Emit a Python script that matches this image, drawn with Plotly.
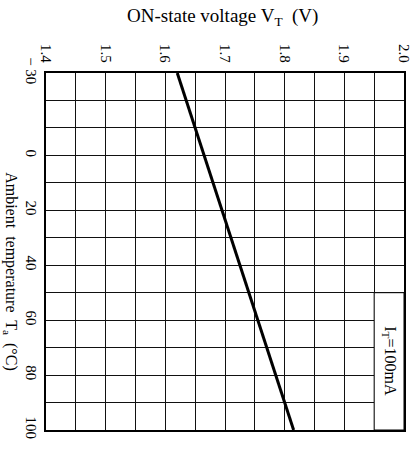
import plotly.graph_objects as go

# Data
temperature_c = [-30, 100]
on_voltage_v = [1.62, 1.815]

x_tick_vals = [1.4, 1.5, 1.6, 1.7, 1.8, 1.9, 2.0]
x_tick_text = ["1.4", "1.5", "1.6", "1.7", "1.8", "1.9", "2.0"]
y_tick_vals = [-30, 0, 20, 40, 60, 80, 100]
y_tick_text = ["\u2212 30", "0", "20", "40", "60", "80", "100"]

serif = "Liberation Serif, Times New Roman, serif"

fig = go.Figure()
fig.add_trace(go.Scatter(
    x=on_voltage_v, y=temperature_c, mode="lines",
    line=dict(color="black", width=3), showlegend=False, hoverinfo="skip"))

# blank label box in the lower-right cell block
fig.add_shape(type="rect", xref="x", yref="y", x0=1.95, x1=2.0, y0=50, y1=100,
              fillcolor="white", line=dict(color="black", width=1), layer="between")

fig.add_annotation(x=1.975, y=75, xref="x", yref="y", xshift=1,
                   text="I<sub>T</sub>=100mA", textangle=90, showarrow=False,
                   font=dict(family=serif, size=16, color="black"))

fig.add_annotation(x=0.5, y=1, xref="paper", yref="paper", yanchor="bottom",
                   yshift=42, xshift=-3,
                   text="ON-state voltage V<sub>T</sub>  (V)", showarrow=False,
                   font=dict(family=serif, size=19, color="black"))

fig.add_annotation(x=0, y=0.445, xref="paper", yref="paper", xanchor="center",
                   xshift=-35,
                   text="Ambient  temperature  T<sub>a</sub>  (°C)", textangle=90,
                   showarrow=False,
                   font=dict(family=serif, size=16, color="black"))

fig.update_xaxes(
    range=[1.4, 2.0], side="top", tickmode="array", tickvals=x_tick_vals,
    ticktext=x_tick_text, tickangle=90, ticks="", showgrid=True,
    gridcolor="#111", gridwidth=1, ticklabelstandoff=3,
    minor=dict(dtick=0.05, tick0=1.4, showgrid=True, gridcolor="#111", gridwidth=1),
    showline=True, linecolor="black", linewidth=2, mirror=True,
    zeroline=False, automargin=False,
    tickfont=dict(family=serif, size=15, color="black"))

fig.update_yaxes(
    range=[100, -30], tickmode="array", tickvals=y_tick_vals,
    ticktext=y_tick_text, tickangle=90, ticks="", showgrid=True,
    gridcolor="#111", gridwidth=1, ticklabelstandoff=0,
    minor=dict(dtick=10, tick0=0, showgrid=True, gridcolor="#111", gridwidth=1),
    showline=True, linecolor="black", linewidth=2, mirror=True,
    zeroline=False, automargin=False,
    tickfont=dict(family=serif, size=15, color="black"))

fig.update_layout(
    width=419, height=449,
    margin=dict(l=46, r=15, t=73, b=19),
    plot_bgcolor="white", paper_bgcolor="white",
)

fig.write_html("out.html", config={"displayModeBar": False},
               post_script="document.body.style.margin='0';document.body.style.overflow='hidden';")
